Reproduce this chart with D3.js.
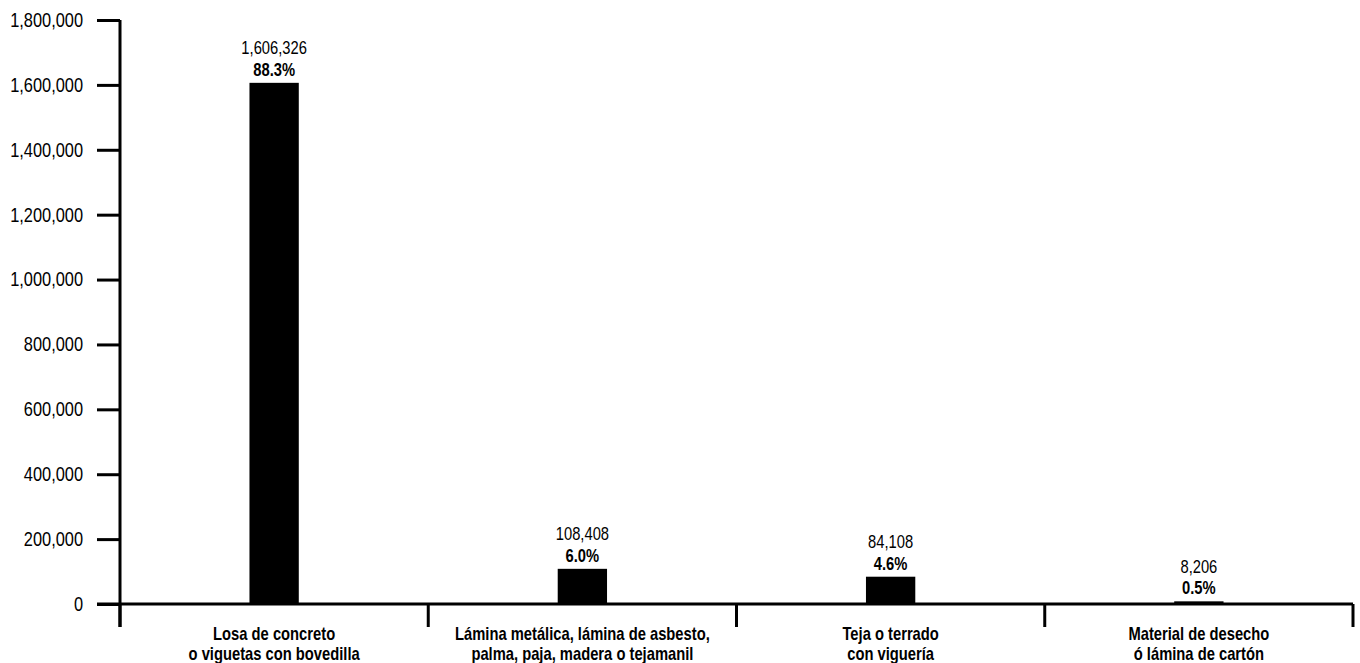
<!DOCTYPE html>
<html><head><meta charset="utf-8">
<script src="https://cdn.jsdelivr.net/npm/d3@7"></script>
<style>
body{margin:0;background:#fff;}
text{font-family:"Liberation Sans",Arial,sans-serif;fill:#000;}
</style></head>
<body><svg id="c" width="1360" height="663"></svg>
<script>
const categories = [
  ["Losa de concreto","o viguetas con bovedilla"],
  ["Lámina metálica, lámina de asbesto,","palma, paja, madera o tejamanil"],
  ["Teja o terrado","con viguería"],
  ["Material de desecho","ó lámina de cartón"]
];
const values = [1606326, 108408, 84108, 8206];
const percents = ["88.3%","6.0%","4.6%","0.5%"];
const yTicks = [0,200000,400000,600000,800000,1000000,1200000,1400000,1600000,1800000];

const svg = d3.select("#c");
const mLeft = 120, mRight = 1353, mTop = 20, mBottom = 604;
const narrow = 0.82;
const keys = categories.map(c => c.join(" "));
const x = d3.scaleBand().domain(keys).range([mLeft, mRight]).padding(0);
const y = d3.scaleLinear().domain([0, 1800000]).range([mBottom, mTop]);
const bw = x.bandwidth() * 0.16;
const cx = i => x(keys[i]) + x.bandwidth() / 2;

// y axis
const ya = svg.append("g").attr("transform", `translate(${mLeft},0)`)
  .call(d3.axisLeft(y).tickValues(yTicks).tickSize(23).tickPadding(14).tickFormat(d3.format(",")));
ya.select(".domain").remove();
ya.selectAll(".tick line").attr("stroke", "#000").attr("stroke-width", 3);
ya.selectAll(".tick text").style("font-size", "20px").attr("fill", "#000")
  .attr("x", -37 / narrow).attr("transform", `scale(${narrow},1)`);

// bars
svg.append("g").selectAll("rect").data(values).join("rect")
  .attr("x", (d, i) => cx(i) - bw / 2)
  .attr("width", bw)
  .attr("y", d => y(d))
  .attr("height", d => y(0) - y(d))
  .attr("fill", "#000");

// value labels
const lab = svg.append("g");
lab.selectAll("text.v").data(values).join("text").attr("class", "v")
  .attr("transform", (d, i) => `translate(${cx(i)},${y(d) - 28.5}) scale(${narrow},1)`)
  .attr("text-anchor", "middle").style("font-size", "18px")
  .text(d => d3.format(",")(d));
lab.selectAll("text.p").data(values).join("text").attr("class", "p")
  .attr("transform", (d, i) => `translate(${cx(i)},${y(d) - 7}) scale(${narrow},1)`)
  .attr("text-anchor", "middle").style("font-size", "18px").style("font-weight", "bold")
  .text((d, i) => percents[i]);

// axes lines
svg.append("line").attr("x1", mLeft).attr("x2", mLeft).attr("y1", y(1800000)).attr("y2", mBottom + 23)
  .attr("stroke", "#000").attr("stroke-width", 3);
svg.append("line").attr("x1", mLeft - 23).attr("x2", mRight).attr("y1", mBottom).attr("y2", mBottom)
  .attr("stroke", "#000").attr("stroke-width", 3);
const dividers = keys.map(k => x(k)).concat([x.range()[1]]);
svg.append("g").selectAll("line").data(dividers).join("line")
  .attr("x1", d => d).attr("x2", d => d).attr("y1", mBottom).attr("y2", mBottom + 23)
  .attr("stroke", "#000").attr("stroke-width", 3);

// category labels
const cl = svg.append("g").selectAll("text").data(categories).join("text")
  .attr("transform", (d, i) => `translate(${cx(i)},640) scale(${narrow},1)`)
  .attr("text-anchor", "middle").style("font-size", "18px").style("font-weight", "bold");
cl.selectAll("tspan").data(d => d).join("tspan")
  .attr("x", 0)
  .attr("dy", (d, i) => i === 0 ? 0 : 20)
  .text(d => d);
</script></body></html>
